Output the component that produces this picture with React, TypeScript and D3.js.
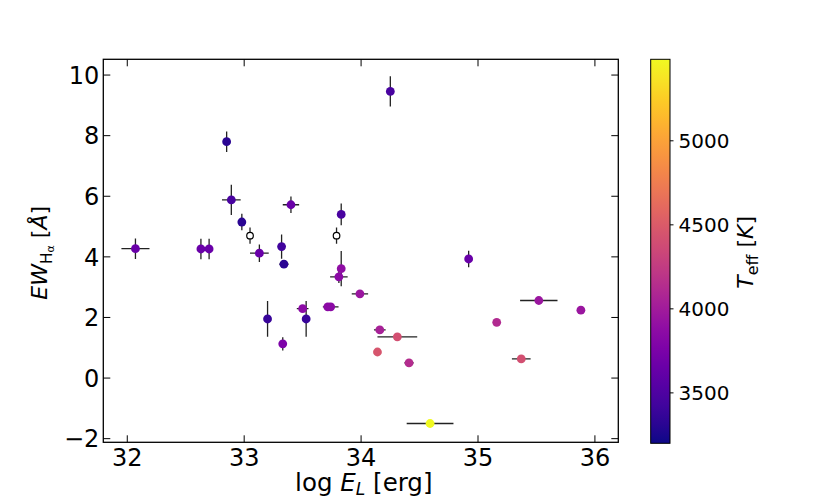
import React from "react";
import * as d3 from "d3";

const logE = [32.07, 32.63, 32.70, 32.85, 32.89, 32.98, 33.05, 33.13, 33.32, 33.34, 33.40, 33.79, 33.83, 33.83, 33.81, 33.99, 33.20, 33.53, 33.50, 33.715, 33.74, 33.33, 34.16, 34.31, 34.14, 34.41, 34.92, 35.52, 35.88, 35.16, 35.37, 34.59, 34.25];
const ewHa = [4.27, 4.26, 4.26, 7.80, 5.88, 5.15, 4.70, 4.12, 4.34, 3.76, 5.72, 4.70, 5.40, 3.61, 3.34, 2.78, 1.95, 1.95, 2.29, 2.35, 2.35, 1.13, 1.59, 1.36, 0.86, 0.50, 3.93, 2.56, 2.24, 1.84, 0.63, -1.50, 9.46];
const xErr = [0.12, 0, 0, 0, 0.08, 0.03, 0, 0.08, 0, 0.04, 0.07, 0, 0, 0, 0.075, 0.07, 0, 0, 0.05, 0, 0.067, 0.03, 0.05, 0.17, 0, 0.04, 0, 0.16, 0, 0, 0.08, 0.2, 0];
const yErr = [0.34, 0.34, 0.34, 0.34, 0.5, 0.27, 0.27, 0.29, 0.4, 0.12, 0.27, 0.27, 0.36, 0.58, 0.2, 0.12, 0.59, 0.59, 0.1, 0, 0, 0.22, 0, 0.12, 0, 0, 0.27, 0, 0, 0, 0, 0, 0.5];
const teff: (number | null)[] = [3655, 3655, 3655, 3315, 3475, 3315, null, 3655, 3430, 3315, 3655, null, 3475, 3885, 3860, 3955, 3380, 3380, 3860, 3860, 3860, 3770, 4045, 4410, 4455, 4135, 3655, 3955, 3955, 4115, 4410, 5485, 3475];

const xTicks = [32, 33, 34, 35, 36];
const yTicks = [-2, 0, 2, 4, 6, 8, 10];
const cbTicks = [3500, 4000, 4500, 5000];
const tRange = [3200, 5485];

const W = 830, H = 498;
const L = 103.3, R = 618.3, T = 59.3, B = 442.3;
const CBL = 650.7, CBR = 670, CBT = 59.3, CBB = 443.3;
const FONT = "DejaVu Sans";
const FT = 24;
const FX = 24.5;
const FY = 22;
const FC = 20;
const FCL = 22;

export default function App() {
  const x = d3.scaleLinear().domain([31.795, 36.2]).range([L, R]);
  const y = d3.scaleLinear().domain([-2.12, 10.52]).range([B, T]);
  const cb = d3.scaleLinear().domain(tRange).range([CBB, CBT]);
  const color = d3.scaleSequential(d3.interpolatePlasma).domain(tRange);
  const stops = d3.range(0, 1.0001, 0.05);
  const pts = logE.map((v, i) => ({ x: v, y: ewHa[i], xe: xErr[i], ye: yErr[i], t: teff[i] }));
  const tickLen = 7;
  return (
    <svg width={W} height={H} style={{ position: "absolute", left: 0, top: 0 }} fontFamily={FONT}>
      <defs>
        <linearGradient id="plasma" x1="0" y1="1" x2="0" y2="0">
          {stops.map((s) => (
            <stop key={s} offset={s} stopColor={d3.interpolatePlasma(s)} />
          ))}
        </linearGradient>
        <clipPath id="clip">
          <rect x={L} y={T} width={R - L} height={B - T} />
        </clipPath>
      </defs>
      <rect x={0} y={0} width={W} height={H} fill="white" />
      <g clipPath="url(#clip)">
        {pts.map((p, i) => (
          <g key={"e" + i} stroke="#222" strokeWidth={1.3}>
            {p.xe > 0 && <line x1={x(p.x - p.xe)} x2={x(p.x + p.xe)} y1={y(p.y)} y2={y(p.y)} />}
            {p.ye > 0 && <line x1={x(p.x)} x2={x(p.x)} y1={y(p.y - p.ye)} y2={y(p.y + p.ye)} />}
          </g>
        ))}
        {pts.map((p, i) =>
          p.t === null ? (
            <circle key={"p" + i} cx={x(p.x)} cy={y(p.y)} r={3.3} fill="white" stroke="black" strokeWidth={1.2} />
          ) : (
            <circle key={"p" + i} cx={x(p.x)} cy={y(p.y)} r={4.4} fill={color(p.t)} />
          )
        )}
      </g>
      <g stroke="black" strokeWidth={1}>
        {xTicks.map((t) => (
          <g key={"xt" + t}>
            <line x1={x(t)} x2={x(t)} y1={B} y2={B - tickLen} />
            <line x1={x(t)} x2={x(t)} y1={T} y2={T + tickLen} />
          </g>
        ))}
        {yTicks.map((t) => (
          <g key={"yt" + t}>
            <line x1={L} x2={L + tickLen} y1={y(t)} y2={y(t)} />
            <line x1={R} x2={R - tickLen} y1={y(t)} y2={y(t)} />
          </g>
        ))}
      </g>
      <rect x={L} y={T} width={R - L} height={B - T} fill="none" stroke="black" strokeWidth={1.3} />
      {xTicks.map((t) => (
        <text key={"xl" + t} x={x(t)} y={466} fontSize={FT} textAnchor="middle">{t}</text>
      ))}
      {yTicks.map((t) => (
        <text key={"yl" + t} x={L - 4} y={y(t)} dy="0.36em" fontSize={FT} textAnchor="end">{t < 0 ? "\u2212" + Math.abs(t) : t}</text>
      ))}
      <text x={(L + R) / 2 + 3} y={491} fontSize={FX} textAnchor="middle">
        log <tspan fontStyle="italic">E</tspan><tspan fontStyle="italic" fontSize={FX * 0.7} dy={4}>L</tspan><tspan dy={-4}> [erg]</tspan>
      </text>
      <text transform={`translate(47,${(T + B) / 2 + 2}) rotate(-90)`} fontSize={FY} textAnchor="middle">
        <tspan fontStyle="italic">EW</tspan><tspan fontSize={FY * 0.7} dy={4.5}>H</tspan><tspan fontSize={FY * 0.5} dy={2.5}>α</tspan><tspan dy={-7}> [</tspan><tspan fontStyle="italic">Å</tspan><tspan>]</tspan>
      </text>
      <rect x={CBL} y={CBT} width={CBR - CBL} height={CBB - CBT} fill="url(#plasma)" stroke="black" strokeWidth={1} />
      {cbTicks.map((t) => (
        <g key={"cb" + t}>
          <line x1={CBR} x2={CBR + 3.5} y1={cb(t)} y2={cb(t)} stroke="black" strokeWidth={1} />
          <text x={CBR + 8.5} y={cb(t)} dy="0.36em" fontSize={FC}>{t}</text>
        </g>
      ))}
      <text transform={`translate(753,${(CBT + CBB) / 2 + 1}) rotate(-90)`} fontSize={FCL} textAnchor="middle">
        <tspan fontStyle="italic">T</tspan><tspan fontSize={FCL * 0.72} dy={4.5}>eff</tspan><tspan dy={-4.5}> [</tspan><tspan fontStyle="italic">K</tspan><tspan>]</tspan>
      </text>
    </svg>
  );
}
